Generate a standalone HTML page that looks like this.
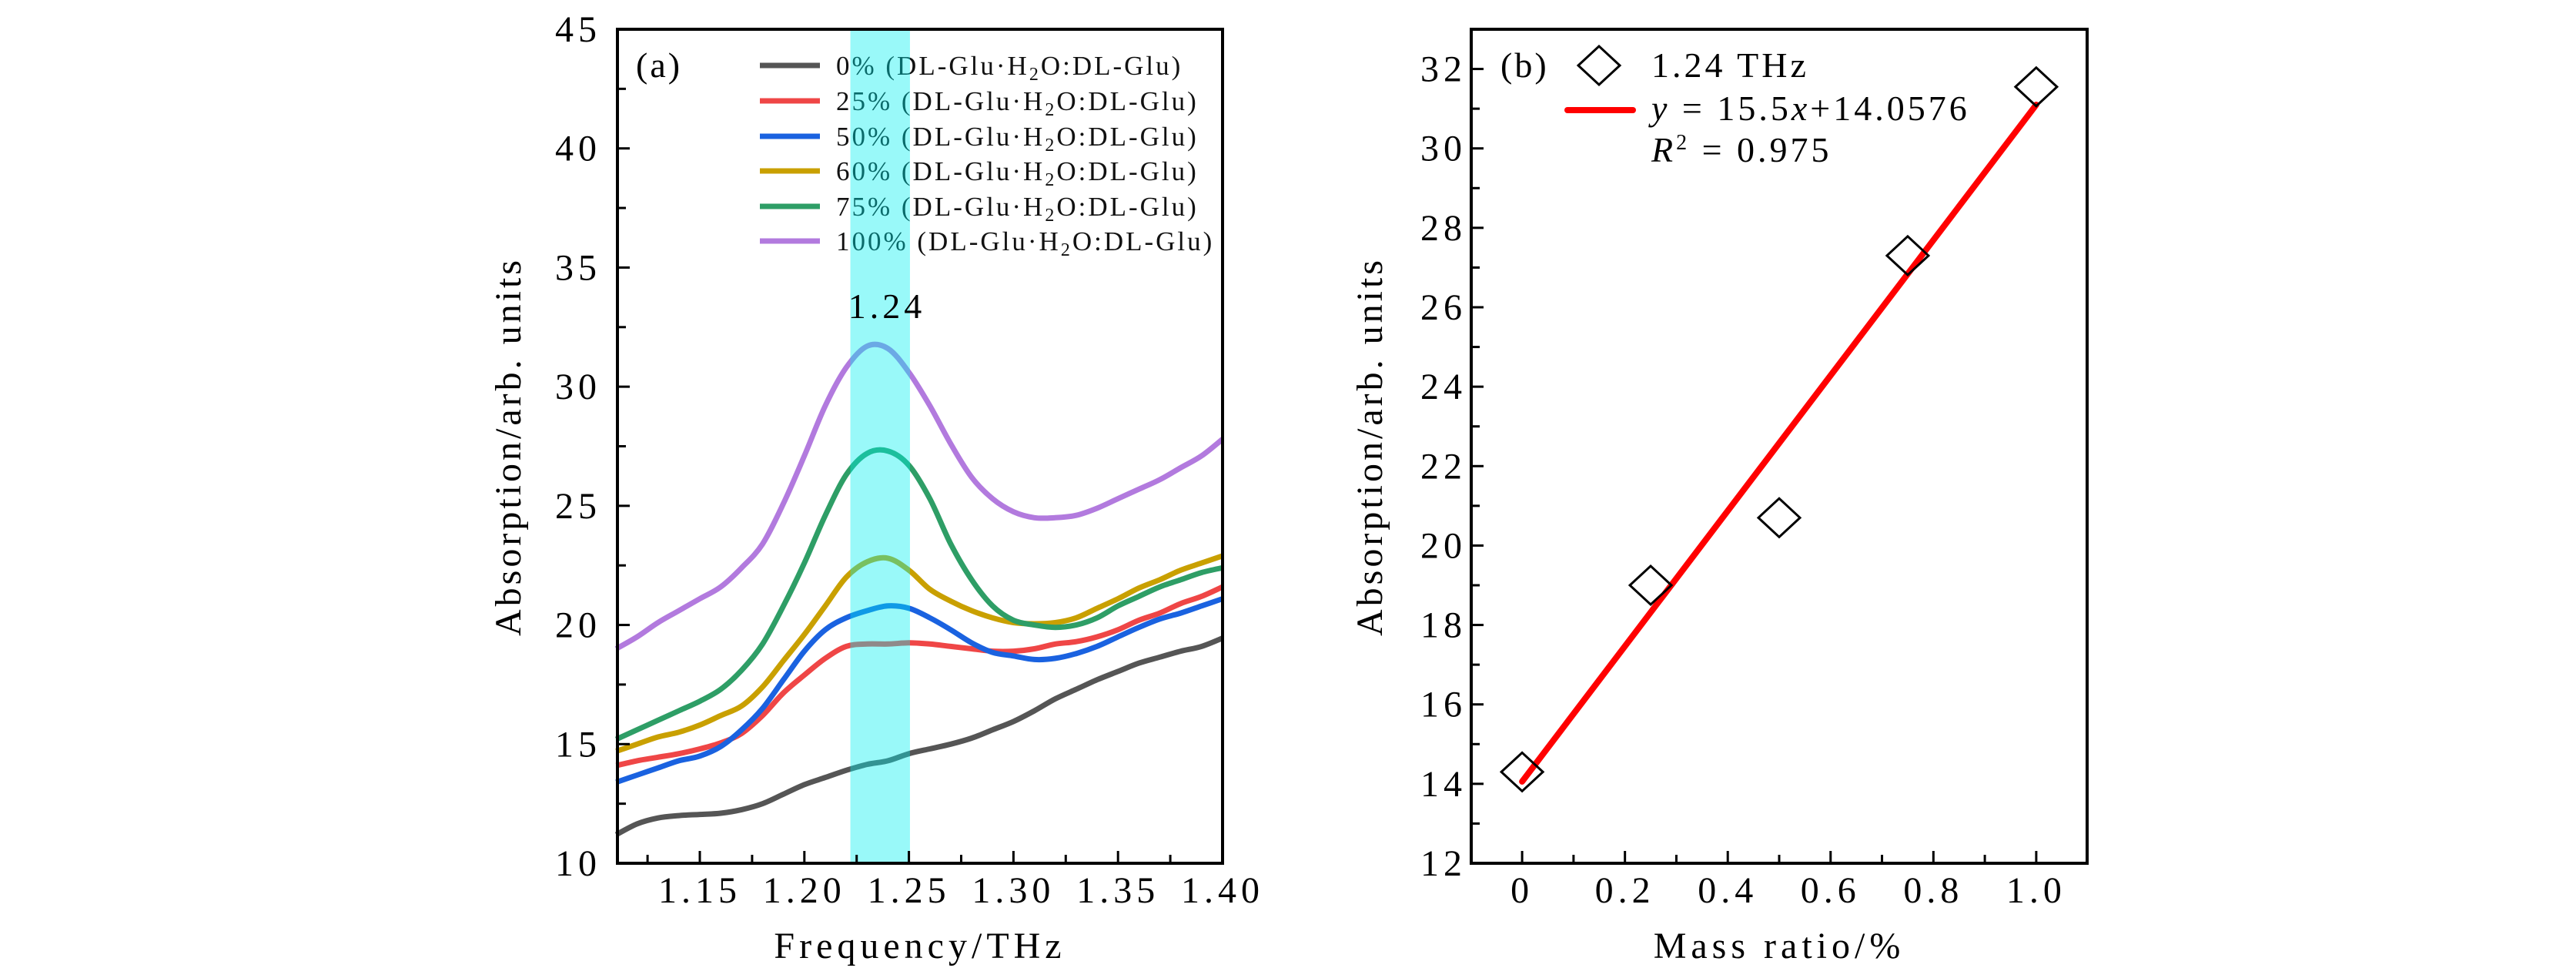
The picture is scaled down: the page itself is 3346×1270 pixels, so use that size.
<!DOCTYPE html>
<html><head><meta charset="utf-8">
<style>
html,body{margin:0;padding:0;background:#fff;}
svg{display:block;font-family:"Liberation Serif",serif;}
svg text{font-family:"Liberation Serif",serif;}
</style></head>
<body>
<svg id="fig" width="3346" height="1270" viewBox="0 0 3346 1270" xmlns="http://www.w3.org/2000/svg"></svg>
<script>
// ---- Panel (a) data ----
const freqs = [1.11,1.12,1.13,1.14,1.15,1.16,1.17,1.18,1.19,1.20,1.21,1.22,1.23,1.24,1.25,1.26,1.27,1.28,1.29,1.30,1.31,1.32,1.33,1.34,1.35,1.36,1.37,1.38,1.39,1.40];
const s0   = [11.2,11.65,11.9,12.0,12.05,12.1,12.25,12.5,12.9,13.3,13.6,13.9,14.15,14.3,14.6,14.8,15.0,15.25,15.6,15.95,16.4,16.9,17.3,17.7,18.05,18.4,18.65,18.9,19.1,19.45];
const s25  = [14.1,14.3,14.45,14.6,14.8,15.05,15.45,16.2,17.15,17.9,18.6,19.1,19.2,19.2,19.25,19.2,19.1,19.0,18.9,18.9,19.0,19.2,19.3,19.5,19.8,20.2,20.5,20.9,21.2,21.6];
const s50  = [13.4,13.7,14.0,14.3,14.5,14.9,15.6,16.5,17.7,18.9,19.8,20.3,20.6,20.8,20.7,20.3,19.8,19.25,18.85,18.7,18.55,18.6,18.8,19.1,19.5,19.9,20.25,20.5,20.8,21.1];
const s60  = [14.7,15.0,15.3,15.5,15.8,16.2,16.6,17.4,18.5,19.6,20.8,22.0,22.65,22.8,22.3,21.5,21.0,20.6,20.3,20.1,20.05,20.1,20.3,20.7,21.1,21.55,21.9,22.3,22.6,22.9];
const s75  = [15.2,15.6,16.0,16.4,16.8,17.3,18.1,19.2,20.8,22.6,24.6,26.3,27.2,27.3,26.7,25.3,23.4,21.9,20.8,20.2,20.0,19.9,20.0,20.3,20.8,21.2,21.6,21.9,22.2,22.4];
const s100 = [19.0,19.5,20.1,20.6,21.1,21.6,22.4,23.4,25.1,27.1,29.2,30.8,31.7,31.6,30.6,29.2,27.6,26.2,25.3,24.75,24.5,24.5,24.6,24.9,25.3,25.7,26.1,26.6,27.1,27.8];
const seriesLabels = ["0%","25%","50%","60%","75%","100%"];
const xTicksA = [1.15,1.20,1.25,1.30,1.35,1.40];
const yTicksA = [10,15,20,25,30,35,40,45];
const band = [1.222,1.2505];
// ---- Panel (b) data ----
const ratios = [0,0.25,0.5,0.75,1.0];
const absVals = [14.3,19.0,20.7,27.3,31.55];
const fitX = [0,1.0];
const fitY = [14.0576,31.1];
const xTicksB = [0,0.2,0.4,0.6,0.8,1.0];
const xTickLabelsB = ["0","0.2","0.4","0.6","0.8","1.0"];
const yTicksB = [12,14,16,18,20,22,24,26,28,30,32];

const NS="http://www.w3.org/2000/svg";
const svg=document.getElementById('fig');
function el(tag,attrs,parent){const e=document.createElementNS(NS,tag);for(const k in attrs)e.setAttribute(k,attrs[k]);(parent||svg).appendChild(e);return e;}
function smooth(pts){let d='M'+pts[0][0].toFixed(1)+' '+pts[0][1].toFixed(1);for(let i=0;i<pts.length-1;i++){const p0=pts[Math.max(0,i-1)],p1=pts[i],p2=pts[i+1],p3=pts[Math.min(pts.length-1,i+2)];const c1=[p1[0]+(p2[0]-p0[0])/6,p1[1]+(p2[1]-p0[1])/6];const c2=[p2[0]-(p3[0]-p1[0])/6,p2[1]-(p3[1]-p1[1])/6];d+=` C${c1[0].toFixed(1)} ${c1[1].toFixed(1)} ${c2[0].toFixed(1)} ${c2[1].toFixed(1)} ${p2[0].toFixed(1)} ${p2[1].toFixed(1)}`;}return d;}

const A={l:802,r:1588,t:38,b:1121,x0:1.1106,x1:1.40,y0:10,y1:45};
const ax=v=>A.l+(v-A.x0)/(A.x1-A.x0)*(A.r-A.l);
const ay=v=>A.b-(v-A.y0)/(A.y1-A.y0)*(A.b-A.t);
const B={l:1911,r:2711,t:38,b:1121,x0:-0.099,x1:1.099,y0:12,y1:33};
const bx=v=>B.l+(v-B.x0)/(B.x1-B.x0)*(B.r-B.l);
const by=v=>B.b-(v-B.y0)/(B.y1-B.y0)*(B.b-B.t);
const TF=48, TLS=6;

const ga=el('g',{});


const colors=["#555555","#ef4646","#1a62e0","#c9a000","#2e9e66","#b27ade"];
const all=[s0,s25,s50,s60,s75,s100];
all.forEach((s,i)=>{
  const pts=s.map((v,j)=>[ax(freqs[j]),ay(v)]);
  const p=el('path',{d:smooth(pts),fill:'none',stroke:colors[i],'stroke-width':7,'stroke-linejoin':'round'},ga);
  
  
});
const legA=el('g',{},ga);


const legY=[85,131,177,222,268,313];
seriesLabels.forEach((lab,i)=>{
  const g=el('g',{},legA);
  
  
  el('line',{x1:987,x2:1065,y1:legY[i],y2:legY[i],stroke:colors[i],'stroke-width':7},g);
  const t=el('text',{x:1086,y:legY[i]+12,'font-size':35,fill:'#111','letter-spacing':3},g);
  t.innerHTML=lab+' (DL-Glu·H<tspan font-size="24" dy="7">2</tspan><tspan dy="-7">O:DL-Glu)</tspan>';
});
const br=el('rect',{x:ax(band[0]),y:A.t,width:ax(band[1])-ax(band[0]),height:A.b-A.t,fill:'#00f0f0','fill-opacity':0.4},ga);


const lb=el('text',{x:1152,y:413,'font-size':46,'text-anchor':'middle','letter-spacing':5},ga);
lb.textContent='1.24';


const pa=el('text',{x:826,y:100,'font-size':46,'letter-spacing':3},ga);
pa.textContent='(a)';


el('rect',{x:A.l,y:A.t,width:A.r-A.l,height:A.b-A.t,fill:'none',stroke:'#000','stroke-width':4},ga);
for(let v=1.125;v<=1.4001;v+=0.025){const x=ax(v);const major=xTicksA.some(t=>Math.abs(t-v)<1e-6);el('line',{x1:x,x2:x,y1:A.b,y2:A.b-(major?16:11),stroke:'#000','stroke-width':3},ga);}
xTicksA.forEach(v=>{const t=el('text',{x:ax(v),y:1172,'font-size':TF,'text-anchor':'middle','letter-spacing':TLS},ga);t.textContent=v.toFixed(2);});
for(let v=12.5;v<45;v+=2.5){const y=ay(v);el('line',{x1:A.l,x2:A.l+(v%5===0?16:11),y1:y,y2:y,stroke:'#000','stroke-width':3},ga);}
yTicksA.forEach(v=>{const t=el('text',{x:781,y:ay(v)+16,'font-size':TF,'text-anchor':'end','letter-spacing':TLS},ga);t.textContent=v;});
const xta=el('text',{x:1195,y:1244,'font-size':TF,'text-anchor':'middle','letter-spacing':6},ga);
xta.textContent='Frequency/THz';


const yta=el('text',{x:0,y:0,'font-size':TF,'text-anchor':'middle','letter-spacing':4,transform:'translate(676,580) rotate(-90)'},ga);
yta.textContent='Absorption/arb. units';



const gb=el('g',{});


const fit=el('line',{x1:bx(fitX[0]),y1:by(fitY[0]),x2:bx(fitX[1]),y2:by(fitY[1]),stroke:'#f00','stroke-width':8,'stroke-linecap':'round'},gb);


function diamond(cx,cy,g){return el('path',{d:`M${cx-27} ${cy} L${cx} ${cy-25} L${cx+27} ${cy} L${cx} ${cy+25} Z`,fill:'none',stroke:'#000','stroke-width':3},g);}
ratios.forEach((r,i)=>{const d=diamond(bx(r),by(absVals[i]),gb);});
el('rect',{x:B.l,y:B.t,width:B.r-B.l,height:B.b-B.t,fill:'none',stroke:'#000','stroke-width':4},gb);
for(let k=-1;k<=11;k++){const v=k/10;const x=bx(v);if(x<=B.l+2||x>=B.r-2)continue;el('line',{x1:x,x2:x,y1:B.b,y2:B.b-(k%2===0?16:11),stroke:'#000','stroke-width':3},gb);}
xTicksB.forEach((v,i)=>{const t=el('text',{x:bx(v),y:1172,'font-size':TF,'text-anchor':'middle','letter-spacing':TLS},gb);t.textContent=xTickLabelsB[i];});
for(let v=13;v<=32;v++){const y=by(v);el('line',{x1:B.l,x2:B.l+(v%2===0?16:11),y1:y,y2:y,stroke:'#000','stroke-width':3},gb);}
yTicksB.forEach(v=>{const t=el('text',{x:1905,y:by(v)+16,'font-size':TF,'text-anchor':'end','letter-spacing':TLS},gb);t.textContent=v;});
const xtb=el('text',{x:2311,y:1244,'font-size':TF,'text-anchor':'middle','letter-spacing':6},gb);
xtb.textContent='Mass ratio/%';


const ytb=el('text',{x:0,y:0,'font-size':TF,'text-anchor':'middle','letter-spacing':4,transform:'translate(1795,580) rotate(-90)'},gb);
ytb.textContent='Absorption/arb. units';


const pb=el('text',{x:1949,y:100,'font-size':46,'letter-spacing':3},gb);
pb.textContent='(b)';


const legB=el('g',{},gb);


diamond(2077,85,legB);
el('line',{x1:2036,x2:2121,y1:143,y2:143,stroke:'#f00','stroke-width':8,'stroke-linecap':'round'},legB);
const t1=el('text',{x:2145,y:100,'font-size':46,'letter-spacing':4},legB);t1.textContent='1.24 THz';
const t2=el('text',{x:2145,y:156,'font-size':46,'letter-spacing':4},legB);
t2.innerHTML='<tspan font-style="italic">y</tspan> = 15.5<tspan font-style="italic">x</tspan>+14.0576';
const t3=el('text',{x:2145,y:210,'font-size':46,'letter-spacing':4},legB);
t3.innerHTML='<tspan font-style="italic">R</tspan><tspan font-size="28" dy="-16">2</tspan><tspan dy="16"> = 0.975</tspan>';
</script>
</body></html>
